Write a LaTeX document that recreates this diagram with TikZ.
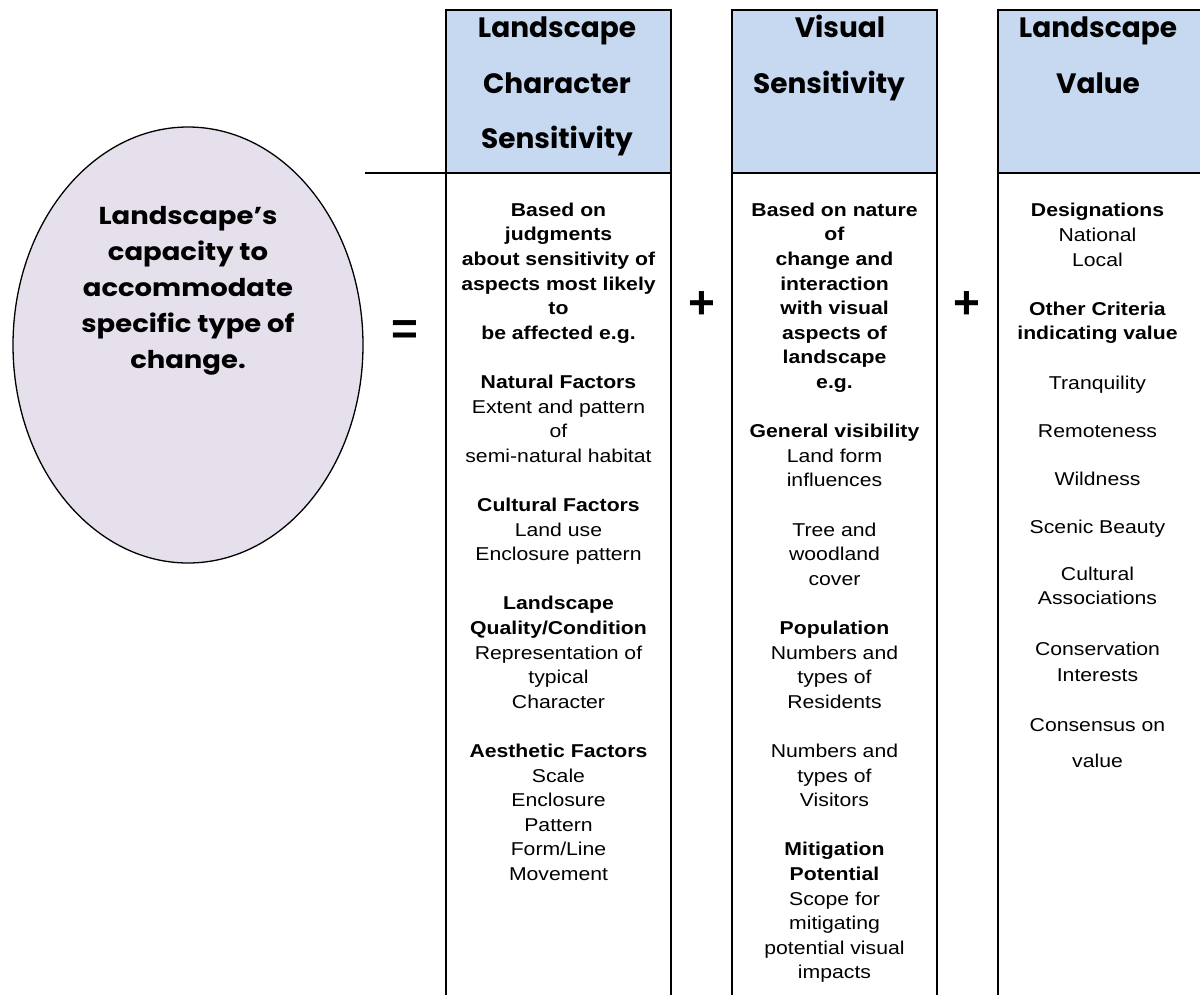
\documentclass[tikz,border=0pt]{standalone}
\usepackage{fontspec}
\setmainfont{Liberation Sans}[FakeStretch=1.14]
\newfontfamily\hdrfont{Poppins}
\newfontfamily\ellfont{Poppins}[FakeStretch=1.12]
\newfontfamily\symfont{Liberation Sans}
\usetikzlibrary{shapes.geometric}
\definecolor{hdrblue}{HTML}{C6D9F1}
\definecolor{ellfill}{HTML}{E5E0EC}
\newcommand\bodyfs{\fontsize{18.6}{24.6}\selectfont}
\newcommand\gap{\\[24.6pt]}
\tikzset{
  hdrbox/.style={draw, fill=hdrblue, line width=2pt, inner sep=0pt, outer sep=0pt, minimum height=163pt},
  colbox/.style={draw, line width=2pt, inner sep=0pt, outer sep=0pt, minimum height=840pt, anchor=north},
  hdrtxt/.style={font=\hdrfont\bfseries\fontsize{28}{55}\selectfont, anchor=base, inner sep=0pt},
  blk/.style={font=\bodyfs, align=center, anchor=north, inner sep=0pt},
  ln/.style={font=\bodyfs, anchor=base, inner sep=0pt},
  opsym/.style={font=\symfont\bfseries\fontsize{46}{46}\selectfont, inner sep=0pt},
}
\begin{document}
\begin{tikzpicture}[x=1pt, y=-1pt]
\useasboundingbox (0,0) rectangle (1200,994);
\clip (0,0) rectangle (1200,994);
% ellipse
\node[draw, ellipse, fill=ellfill, line width=1.3pt, minimum width=350pt, minimum height=436pt, inner sep=0pt] (cap) at (188,345) {};
\node[font=\ellfont\bfseries\fontsize{24.5}{36}\selectfont, align=center, inner sep=0pt] (captxt) at (188,291)
  {Landscape’s\\capacity to\\accommodate\\specific type of\\change.};
% headers and columns
\node[hdrbox, minimum width=225pt] (h1) at (558.5,91.5) {};
\node[hdrbox, minimum width=205pt] (h2) at (834.5,91.5) {};
\node[hdrbox, minimum width=205pt] (h3) at (1100.5,91.5) {};
\node[colbox, minimum width=225pt] (b1) at (h1.south) {};
\node[colbox, minimum width=205pt] (b2) at (h2.south) {};
\node[colbox, minimum width=205pt] (b3) at (h3.south) {};
\coordinate (hl) at (365,173);
\draw[line width=2pt] (hl) -- (h1.south west);
% header texts
\node[hdrtxt] (h1a) at (557,37) {Landscape};
\node[hdrtxt] (h1b) at (557,93) {Character};
\node[hdrtxt] (h1c) at (557,148) {Sensitivity};
\node[hdrtxt] (h2a) at (840,37) {Visual};
\node[hdrtxt] (h2b) at (829,93) {Sensitivity};
\node[hdrtxt] (h3a) at (1098,37) {Landscape};
\node[hdrtxt] (h3b) at (1098,93) {Value};
% operators
\node[opsym] (eq) at (405,333) {=};
\node[opsym] (p1) at (702,305) {+};
\node[opsym] (p2) at (967,305) {+};
% column 1 text
\node[blk] (t1) at (558.5,196) {\rule{0pt}{20pt}\textbf{Based on}\\ \textbf{judgments}\\ \textbf{about sensitivity of}\\ \textbf{aspects most likely}\\ \textbf{to}\\ \textbf{be affected e.g.}\gap
\textbf{Natural Factors}\\ Extent and pattern\\ of\\ semi-natural habitat\gap
\textbf{Cultural Factors}\\ Land use\\ Enclosure pattern\gap
\textbf{Landscape}\\ \textbf{Quality/Condition}\\ Representation of\\ typical\\ Character\gap
\textbf{Aesthetic Factors}\\ Scale\\ Enclosure\\ Pattern\\ Form/Line\\ Movement};
% column 2 text
\node[blk] (t2) at (834.5,196) {\rule{0pt}{20pt}\textbf{Based on nature}\\ \textbf{of}\\ \textbf{change and}\\ \textbf{interaction}\\ \textbf{with visual}\\ \textbf{aspects of}\\ \textbf{landscape}\\ \textbf{e.g.}\gap
\textbf{General visibility}\\ Land form\\ influences\gap
Tree and\\ woodland\\ cover\gap
\textbf{Population}\\ Numbers and\\ types of\\ Residents\gap
Numbers and\\ types of\\ Visitors\gap
\textbf{Mitigation}\\ \textbf{Potential}\\ Scope for\\ mitigating\\ potential visual\\ impacts};
% column 3 text
\node[ln] (v1) at (1097.5,216) {\textbf{Designations}};
\node[ln] (v2) at (1097.5,241) {National};
\node[ln] (v3) at (1097.5,266) {Local};
\node[ln] (v4) at (1097.5,315) {\textbf{Other Criteria}};
\node[ln] (v5) at (1097.5,339) {\textbf{indicating value}};
\node[ln] (v6) at (1097.5,389) {Tranquility};
\node[ln] (v7) at (1097.5,437) {Remoteness};
\node[ln] (v8) at (1097.5,485) {Wildness};
\node[ln] (v9) at (1097.5,533) {Scenic Beauty};
\node[ln] (v10) at (1097.5,580) {Cultural};
\node[ln] (v11) at (1097.5,604) {Associations};
\node[ln] (v12) at (1097.5,655) {Conservation};
\node[ln] (v13) at (1097.5,681) {Interests};
\node[ln] (v14) at (1097.5,731) {Consensus on};
\node[ln] (v15) at (1097.5,767) {value};
\end{tikzpicture}
\end{document}
